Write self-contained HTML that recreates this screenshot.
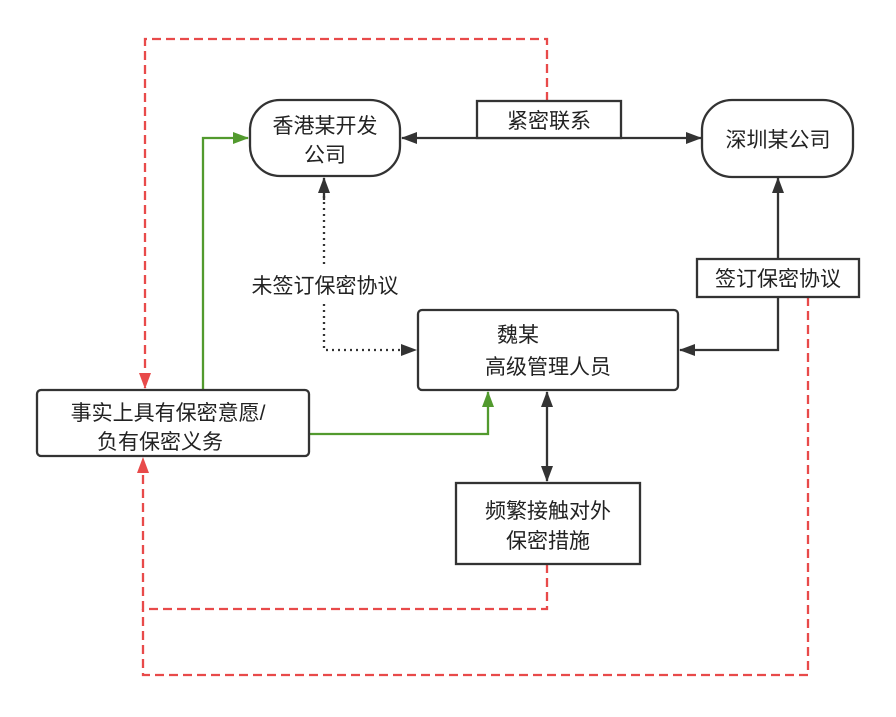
<!DOCTYPE html>
<html><head><meta charset="utf-8"><style>
html,body{margin:0;padding:0;background:#fff;}
svg text{font-family:"Liberation Sans","Noto Sans CJK SC",sans-serif;font-size:21px;fill:#222;text-anchor:middle;}
</style></head><body>
<svg width="896" height="712" viewBox="0 0 896 712" xmlns="http://www.w3.org/2000/svg">
<defs>
<marker id="ab2" markerWidth="16" markerHeight="12" refX="15" refY="6" orient="auto" markerUnits="userSpaceOnUse"><path d="M0,0 L16,6 L0,12 z" fill="#333"/></marker>
<marker id="ag" markerWidth="16" markerHeight="12" refX="15" refY="6" orient="auto" markerUnits="userSpaceOnUse"><path d="M0,0 L16,6 L0,12 z" fill="#529a2e"/></marker>
<marker id="ar" markerWidth="16" markerHeight="12" refX="15" refY="6" orient="auto" markerUnits="userSpaceOnUse"><path d="M0,0 L16,6 L0,12 z" fill="#e84a4a"/></marker>
</defs>
<g fill="none" stroke-width="2.3">
<path d="M547,101 V39 H145 V388" stroke="#e84a4a" stroke-dasharray="9,5" marker-end="url(#ar)"/>
<path d="M547,564 V609 H143 V458" stroke="#e84a4a" stroke-dasharray="9,5" marker-end="url(#ar)"/>
<path d="M808,297 V675 H143 V609" stroke="#e84a4a" stroke-dasharray="9,5"/>
<path d="M203,390 V138 H248" stroke="#529a2e" marker-end="url(#ag)"/>
<path d="M309,434 H488 V392" stroke="#529a2e" marker-end="url(#ag)"/>
<path d="M324,190 V350 H416" stroke="#333" stroke-dasharray="2,4" marker-end="url(#ab2)"/>
<path d="M324,200 V178" stroke="#333" marker-end="url(#ab2)"/>
<path d="M420,138 H701" stroke="#333" marker-end="url(#ab2)"/>
<path d="M420,138 H402" stroke="#333" marker-end="url(#ab2)"/>
<path d="M778,258 V178" stroke="#333" marker-end="url(#ab2)"/>
<path d="M778,297 V350 H680" stroke="#333" marker-end="url(#ab2)"/>
<path d="M547,430 V392" stroke="#333" marker-end="url(#ab2)"/>
<path d="M547,430 V481" stroke="#333" marker-end="url(#ab2)"/>
<rect x="250" y="100" width="150" height="76" rx="30" fill="#fff" stroke="#333"/>
<rect x="702" y="100" width="151" height="77" rx="30" fill="#fff" stroke="#333"/>
<rect x="477" y="101" width="144" height="37" fill="#fff" stroke="#333"/>
<rect x="697" y="259" width="162" height="38" fill="#fff" stroke="#333"/>
<rect x="418" y="310" width="260" height="80" rx="4" fill="#fff" stroke="#333"/>
<rect x="37" y="390" width="272" height="66" rx="4" fill="#fff" stroke="#333"/>
<rect x="456" y="483" width="184" height="81" fill="#fff" stroke="#333"/>
</g>
<rect x="236" y="266" width="180" height="36" fill="#fff"/>
<text x="325" y="133">香港某开发</text>
<text x="325" y="162">公司</text>
<text x="778" y="147">深圳某公司</text>
<text x="549" y="128">紧密联系</text>
<text x="778" y="286">签订保密协议</text>
<text x="325" y="293">未签订保密协议</text>
<text x="518" y="342">魏某</text>
<text x="548" y="374">高级管理人员</text>
<text x="168" y="420">事实上具有保密意愿/</text>
<text x="160" y="449">负有保密义务</text>
<text x="548" y="518">频繁接触对外</text>
<text x="548" y="548">保密措施</text>
</svg>
</body></html>
